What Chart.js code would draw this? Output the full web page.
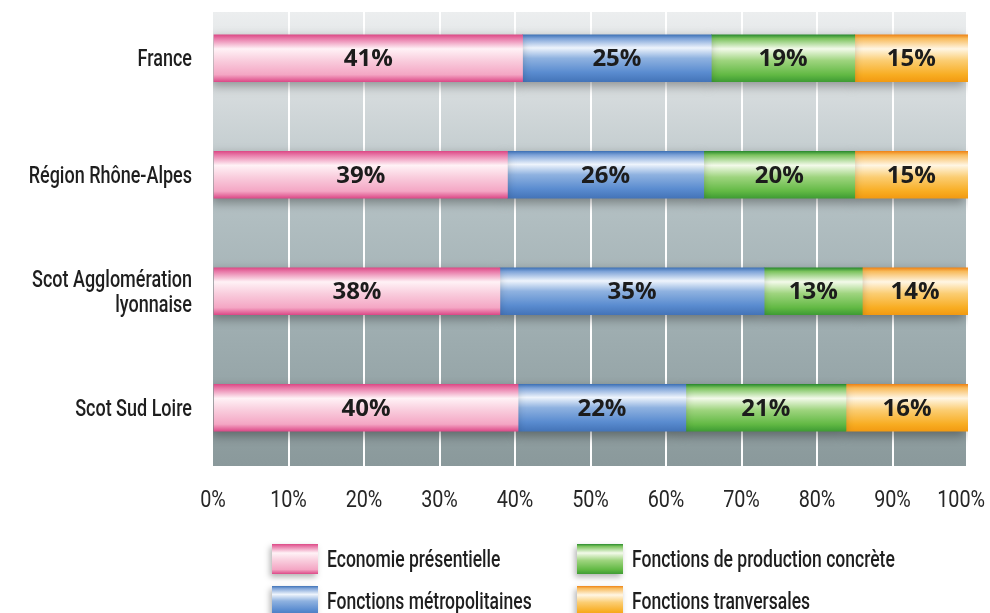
<!DOCTYPE html>
<html>
<head>
<meta charset="utf-8">
<script src="https://cdn.jsdelivr.net/npm/chart.js@4.4.1/dist/chart.umd.min.js"></script>
<style>
  html, body { margin: 0; padding: 0; background: #fff; }
  #wrap { width: 990px; height: 613px; }
</style>
</head>
<body>
<div id="wrap"><canvas id="emploiChart"></canvas></div>
<script>
// Data
const territoires = ['France', 'Région Rhône-Alpes', ['Scot Agglomération', 'lyonnaise'], 'Scot Sud Loire'];
const seriesNames = ['Economie présentielle', 'Fonctions métropolitaines', 'Fonctions de production concrète', 'Fonctions tranversales'];
const economiePresentielle = [41, 39, 38, 40];
const fonctionsMetropolitaines = [25, 26, 35, 22];
const fonctionsProduction = [19, 20, 13, 21];
const fonctionsTransversales = [15, 15, 14, 16];
const xTicks = [0, 10, 20, 30, 40, 50, 60, 70, 80, 90, 100];

const rawSeries = [economiePresentielle, fonctionsMetropolitaines, fonctionsProduction, fonctionsTransversales];
// bars are drawn as a 100% stack
const totals = territoires.map((_, i) => rawSeries.reduce((s, arr) => s + arr[i], 0));

// gradient stops, top to bottom of the bar
const barStops = [
    [[0, '#dc4a86'], [0.08, '#e879a8'], [0.3, '#fff2f6'], [0.55, '#f9cddd'], [0.85, '#f4a6c4'], [1, '#dc4a88']],
    [[0, '#3f72b6'], [0.08, '#7ea3d8'], [0.28, '#eef4fc'], [0.5, '#8fb2e0'], [0.8, '#5a8cd0'], [1, '#4474b8']],
    [[0, '#2a8a2e'], [0.08, '#7cc35e'], [0.3, '#f3faea'], [0.55, '#9ed47e'], [0.85, '#62b944'], [1, '#3f9c34']],
    [[0, '#ee8416'], [0.08, '#f8bb5c'], [0.3, '#fff6e4'], [0.55, '#fbcd72'], [0.85, '#f8ad22'], [1, '#f29a12']]
];

function makeGradient(ctx, top, bottom, stops) {
    const g = ctx.createLinearGradient(0, top, 0, bottom);
    stops.forEach(s => g.addColorStop(s[0], s[1]));
    return g;
}

// the original uses a tall condensed face; squeeze Roboto horizontally
function narrowText(ctx, text, x, y, align, size, sx, color, weight) {
    ctx.save();
    ctx.font = (weight || '500') + ' ' + size + 'px Roboto, sans-serif';
    ctx.fillStyle = color;
    ctx.textAlign = align;
    ctx.textBaseline = 'alphabetic';
    ctx.translate(x, y);
    ctx.scale(sx, 1);
    ctx.fillText(text, 0, 0);
    const w = ctx.measureText(text).width * sx;
    ctx.restore();
    return w;
}

function narrowWidth(ctx, text, size, sx, weight) {
    ctx.save();
    ctx.font = (weight || '500') + ' ' + size + 'px Roboto, sans-serif';
    const w = ctx.measureText(text).width * sx;
    ctx.restore();
    return w;
}

const BAR_H = 47;

function barColor(k) {
    return function(c) {
        const chart = c.chart;
        const ys = chart.scales && chart.scales.y;
        if (!ys || !chart.chartArea || c.type !== 'data') return barStops[k][4][1];
        const yc = ys.getPixelForValue(c.dataIndex);
        return makeGradient(chart.ctx, yc - BAR_H / 2, yc + BAR_H / 2, barStops[k]);
    };
}

const bgPlugin = {
    id: 'bgPlugin',
    beforeDraw(chart) {
        const { ctx, chartArea } = chart;
        ctx.save();
        ctx.fillStyle = '#ffffff';
        ctx.fillRect(0, 0, chart.width, chart.height);
        const top = chartArea.top + 12;
        const g = ctx.createLinearGradient(0, top, 0, chartArea.bottom);
        g.addColorStop(0, '#eceeef');
        g.addColorStop(0.2, '#d3d9db');
        g.addColorStop(0.45, '#b1bec1');
        g.addColorStop(0.72, '#9dacaf');
        g.addColorStop(1, '#8a999b');
        ctx.fillStyle = g;
        ctx.fillRect(chartArea.left, top, chartArea.right - chartArea.left - 2, chartArea.bottom - top);
        ctx.restore();
    },
    beforeDatasetsDraw(chart) {
        const ctx = chart.ctx;
        ctx.save();
        ctx.shadowColor = 'rgba(0,0,0,0.35)';
        ctx.shadowBlur = 10;
        ctx.shadowOffsetX = -3;
        ctx.shadowOffsetY = 4;
    },
    afterDatasetsDraw(chart) {
        const ctx = chart.ctx;
        ctx.restore();
        // value labels
        ctx.save();
        ctx.font = "bold 24px 'Open Sans', 'DejaVu Sans', sans-serif";
        ctx.fillStyle = '#1c1c1c';
        ctx.textAlign = 'center';
        ctx.textBaseline = 'middle';
        chart.data.datasets.forEach((ds, i) => {
            chart.getDatasetMeta(i).data.forEach((el, j) => {
                const cx = (el.x + el.base) / 2;
                ctx.fillText(rawSeries[i][j] + '%', cx, el.y + 1);
            });
        });
        ctx.restore();
    },
    afterDraw(chart) {
        const ctx = chart.ctx;
        const xs = chart.scales.x;
        const ys = chart.scales.y;

        // category labels
        territoires.forEach((lab, i) => {
            const yc = ys.getPixelForValue(i);
            const lines = Array.isArray(lab) ? lab : [lab];
            const first = yc + 8 - (lines.length - 1) * 12.5;
            lines.forEach((l, n) => {
                narrowText(ctx, l, xs.left - 21, first + n * 25, 'right', 24, 0.75, '#1e1e1e');
            });
        });

        // x tick labels, the last one kept inside the canvas
        xTicks.forEach(v => {
            const txt = v + '%';
            const w = narrowWidth(ctx, txt, 23, 0.86, '400');
            const cx = Math.min(xs.getPixelForValue(v), chart.width - 5 - w / 2);
            narrowText(ctx, txt, cx, xs.top + 41, 'center', 23, 0.86, '#262626', '400');
        });

        // legend in two columns
        const cols = [272, 577];
        const rows = [559, 601];
        const order = [[0, 0, 0], [1, 0, 1], [2, 1, 0], [3, 1, 1]]; // series, col, row
        order.forEach(o => {
            const x = cols[o[1]];
            const y = rows[o[2]];
            ctx.save();
            ctx.shadowColor = 'rgba(0,0,0,0.3)';
            ctx.shadowBlur = 6;
            ctx.shadowOffsetX = -2;
            ctx.shadowOffsetY = 3;
            ctx.fillStyle = makeGradient(ctx, y - 15, y + 15, barStops[o[0]]);
            ctx.fillRect(x, y - 15, 46, 30);
            ctx.restore();
            narrowText(ctx, seriesNames[o[0]], x + 55, y + 8, 'left', 24, 0.73, '#1e1e1e');
        });
    }
};

const datasets = rawSeries.map((arr, k) => ({
    label: seriesNames[k],
    data: arr.map((v, i) => v / totals[i] * 100),
    backgroundColor: barColor(k),
    borderWidth: 0,
    barThickness: BAR_H
}));

new Chart(document.getElementById('emploiChart'), {
    type: 'bar',
    data: { labels: territoires, datasets: datasets },
    options: {
        indexAxis: 'y',
        responsive: true,
        maintainAspectRatio: false,
        animation: false,
        layout: { padding: { top: 0, right: 22, bottom: 0, left: 0 } },
        scales: {
            x: {
                stacked: true,
                min: 0,
                max: 100,
                afterBuildTicks: function(scale) {
                    scale.ticks = xTicks.map(v => ({ value: v }));
                },
                afterFit: function(scale) {
                    scale.height = 147;
                    scale.paddingLeft = 0;
                    scale.paddingRight = 0;
                },
                grid: {
                    drawTicks: false,
                    lineWidth: 2,
                    color: function(c) {
                        return (c.tick && (c.tick.value === 0 || c.tick.value === 100)) ? 'rgba(0,0,0,0)' : '#ffffff';
                    }
                },
                border: { display: false },
                ticks: { display: false }
            },
            y: {
                stacked: true,
                afterFit: function(scale) {
                    scale.width = 213;
                    scale.paddingTop = 0;
                    scale.paddingBottom = 0;
                },
                grid: { display: false, drawTicks: false },
                border: { display: false },
                ticks: { display: false }
            }
        },
        plugins: {
            legend: { display: false },
            tooltip: { enabled: false }
        }
    },
    plugins: [bgPlugin]
});
</script>
</body>
</html>
